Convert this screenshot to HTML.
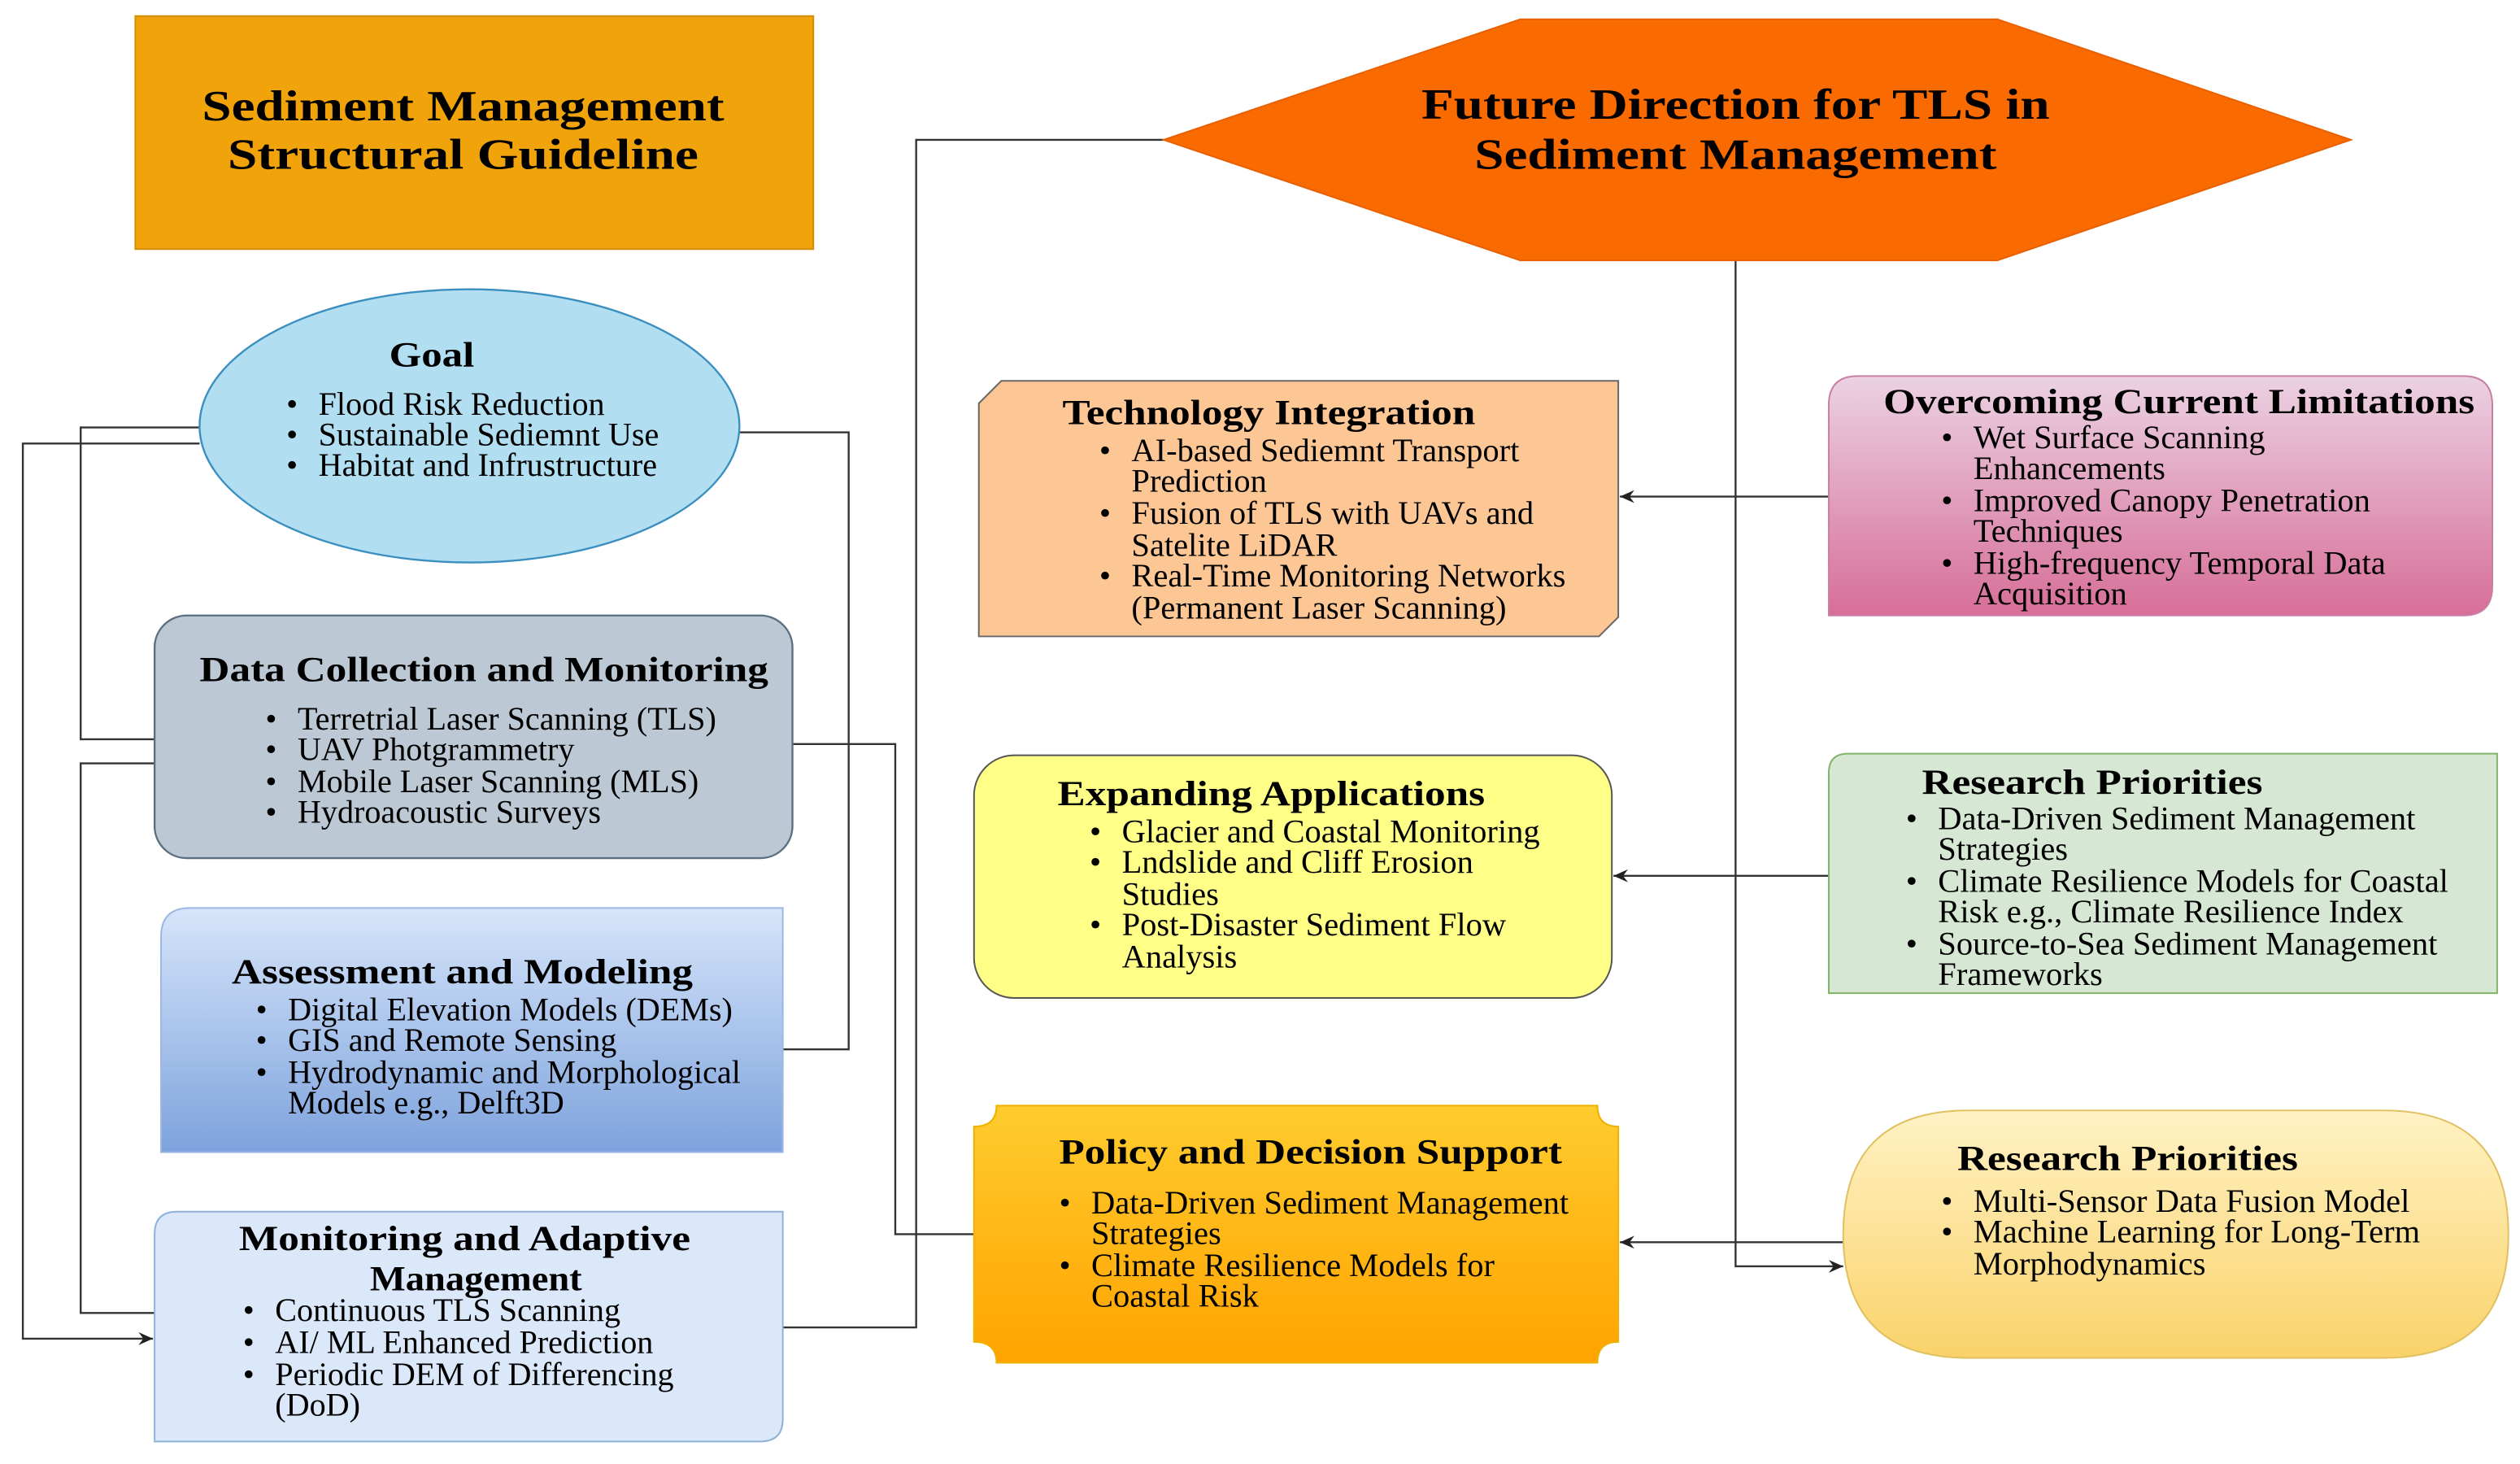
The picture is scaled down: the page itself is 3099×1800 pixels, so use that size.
<!DOCTYPE html>
<html><head><meta charset="utf-8"><style>html,body{margin:0;padding:0;background:#fff}svg{display:block}svg text{font-family:"Liberation Serif","Times New Roman",serif}</style></head>
<body>
<svg width="3099" height="1800" viewBox="0 0 1568 911" xmlns="http://www.w3.org/2000/svg" style="font-family:'Liberation Serif',serif">
<defs>
<linearGradient id="gA" x1="0" y1="0" x2="0" y2="1"><stop offset="0" stop-color="#D6E5FA"/><stop offset="1" stop-color="#7EA3DD"/></linearGradient>
<linearGradient id="gO" x1="0" y1="0" x2="0" y2="1"><stop offset="0" stop-color="#EBD2E2"/><stop offset="1" stop-color="#D76E98"/></linearGradient>
<linearGradient id="gP" x1="0" y1="0" x2="0" y2="1"><stop offset="0" stop-color="#FFCC2E"/><stop offset="1" stop-color="#FFA300"/></linearGradient>
<linearGradient id="gR" x1="0" y1="0" x2="0" y2="1"><stop offset="0" stop-color="#FFF2C4"/><stop offset="1" stop-color="#FAD26A"/></linearGradient>
<marker id="ar" markerWidth="10" markerHeight="10" refX="9" refY="5" orient="auto" markerUnits="userSpaceOnUse"><path d="M0,1 L9,5 L0,9 L3,5 Z" fill="#222"/></marker>
</defs>

<g fill="none" stroke="#333" stroke-width="1.2">
<path d="M724 87 H570 V826 H487"/>
<path d="M1080 162 V788 H1147" marker-end="url(#ar)"/>
<path d="M1138 309 H1008" marker-end="url(#ar)"/>
<path d="M1138 545 H1004" marker-end="url(#ar)"/>
<path d="M1147 773 H1008" marker-end="url(#ar)"/>
<path d="M460 269 H528 V653 H487"/>
<path d="M493 463 H557 V768 H606"/>
<path d="M124 266 H50 V460 H96"/>
<path d="M124 276 H14 V833 H95" marker-end="url(#ar)"/>
<path d="M96 475 H50 V817 H96"/>
</g>

<rect x="84" y="10" width="422" height="145" fill="#F0A30A" stroke="#D48C00"/>
<g font-weight="bold" font-size="27" text-anchor="middle">
<text x="288" y="75" textLength="325" lengthAdjust="spacingAndGlyphs">Sediment Management</text>
<text x="288" y="105" textLength="293" lengthAdjust="spacingAndGlyphs">Structural Guideline</text>
</g>

<polygon points="724,87 946,12 1243,12 1463,87 1243,162 946,162" fill="#F96A00" stroke="#E86000"/>
<g font-weight="bold" font-size="27" text-anchor="middle">
<text x="1080" y="74" textLength="391" lengthAdjust="spacingAndGlyphs">Future Direction for TLS in</text>
<text x="1080" y="105" textLength="325" lengthAdjust="spacingAndGlyphs">Sediment Management</text>
</g>

<ellipse cx="292" cy="265" rx="168" ry="85" fill="#B1DEF0" stroke="#3B8FC0" stroke-width="1.2"/>
<text x="242" y="228" font-weight="bold" font-size="22" textLength="53" lengthAdjust="spacingAndGlyphs">Goal</text>
<g font-size="20.3">
<text x="178" y="258">•</text><text x="198" y="258">Flood Risk Reduction</text>
<text x="178" y="277">•</text><text x="198" y="277">Sustainable Sediemnt Use</text>
<text x="178" y="296">•</text><text x="198" y="296">Habitat and Infrustructure</text>
</g>

<rect x="96" y="383" width="397" height="151" rx="20" fill="#BCC9D4" stroke="#5A6F80" stroke-width="1.2"/>
<text x="124" y="424" font-weight="bold" font-size="22" textLength="354" lengthAdjust="spacingAndGlyphs">Data Collection and Monitoring</text>
<g font-size="20.3">
<text x="165" y="454">•</text><text x="185" y="454">Terretrial Laser Scanning (TLS)</text>
<text x="165" y="473">•</text><text x="185" y="473">UAV Photgrammetry</text>
<text x="165" y="493">•</text><text x="185" y="493">Mobile Laser Scanning (MLS)</text>
<text x="165" y="512">•</text><text x="185" y="512">Hydroacoustic Surveys</text>
</g>

<path d="M118 565 H487 V717 H100 V583 Q100 565 118 565 Z" fill="url(#gA)" stroke="#9DB8E0"/>
<text x="144" y="612" font-weight="bold" font-size="22" textLength="287" lengthAdjust="spacingAndGlyphs">Assessment and Modeling</text>
<g font-size="20.3">
<text x="159" y="635">•</text><text x="179" y="635">Digital Elevation Models (DEMs)</text>
<text x="159" y="654">•</text><text x="179" y="654">GIS and Remote Sensing</text>
<text x="159" y="674">•</text><text x="179" y="674">Hydrodynamic and Morphological</text>
<text x="179" y="693">Models e.g., Delft3D</text>
</g>

<path d="M110 754 H487 V883 Q487 897 473 897 H96 V768 Q96 754 110 754 Z" fill="#DAE8FA" stroke="#8FB0D8"/>
<g font-weight="bold" font-size="22" text-anchor="middle">
<text x="289" y="778" textLength="281" lengthAdjust="spacingAndGlyphs">Monitoring and Adaptive</text>
<text x="296" y="803" textLength="132" lengthAdjust="spacingAndGlyphs">Management</text>
</g>
<g font-size="20.3">
<text x="151" y="822">•</text><text x="171" y="822">Continuous TLS Scanning</text>
<text x="151" y="842">•</text><text x="171" y="842">AI/ ML Enhanced Prediction</text>
<text x="151" y="862">•</text><text x="171" y="862">Periodic DEM of Differencing</text>
<text x="171" y="881">(DoD)</text>
</g>

<polygon points="623,237 1007,237 1007,384 995,396 609,396 609,251" fill="#FDC795" stroke="#666"/>
<text x="661" y="264" font-weight="bold" font-size="22" textLength="257" lengthAdjust="spacingAndGlyphs">Technology Integration</text>
<g font-size="20.5">
<text x="684" y="287">•</text><text x="704" y="287">AI-based Sediemnt Transport</text>
<text x="704" y="306">Prediction</text>
<text x="684" y="326">•</text><text x="704" y="326">Fusion of TLS with UAVs and</text>
<text x="704" y="346">Satelite LiDAR</text>
<text x="684" y="365">•</text><text x="704" y="365">Real-Time Monitoring Networks</text>
<text x="704" y="385">(Permanent Laser Scanning)</text>
</g>

<path d="M1156 234 H1533 Q1551 234 1551 252 V365 Q1551 383 1533 383 H1138 V252 Q1138 234 1156 234 Z" fill="url(#gO)" stroke="#C97FA5"/>
<text x="1172" y="257" font-weight="bold" font-size="22" textLength="368" lengthAdjust="spacingAndGlyphs">Overcoming Current Limitations</text>
<g font-size="20.5">
<text x="1208" y="279">•</text><text x="1228" y="279">Wet Surface Scanning</text>
<text x="1228" y="298">Enhancements</text>
<text x="1208" y="318">•</text><text x="1228" y="318">Improved Canopy Penetration</text>
<text x="1228" y="337">Techniques</text>
<text x="1208" y="357">•</text><text x="1228" y="357">High-frequency Temporal Data</text>
<text x="1228" y="376">Acquisition</text>
</g>

<rect x="606" y="470" width="397" height="151" rx="25" fill="#FFFF88" stroke="#555"/>
<text x="658" y="501" font-weight="bold" font-size="22" textLength="266" lengthAdjust="spacingAndGlyphs">Expanding Applications</text>
<g font-size="20.5">
<text x="678" y="524">•</text><text x="698" y="524">Glacier and Coastal Monitoring</text>
<text x="678" y="543">•</text><text x="698" y="543">Lndslide and Cliff Erosion</text>
<text x="698" y="563">Studies</text>
<text x="678" y="582">•</text><text x="698" y="582">Post-Disaster Sediment Flow</text>
<text x="698" y="602">Analysis</text>
</g>

<path d="M1150 469 H1554 V618 H1138 V481 Q1138 469 1150 469 Z" fill="#D6E8D4" stroke="#82B366"/>
<text x="1196" y="494" font-weight="bold" font-size="22" textLength="212" lengthAdjust="spacingAndGlyphs">Research Priorities</text>
<g font-size="20.5">
<text x="1186" y="516">•</text><text x="1206" y="516">Data-Driven Sediment Management</text>
<text x="1206" y="535">Strategies</text>
<text x="1186" y="555">•</text><text x="1206" y="555">Climate Resilience Models for Coastal</text>
<text x="1206" y="574">Risk e.g., Climate Resilience Index</text>
<text x="1186" y="594">•</text><text x="1206" y="594">Source-to-Sea Sediment Management</text>
<text x="1206" y="613">Frameworks</text>
</g>

<path d="M620 688 H994 Q994 701 1007 701 V835 Q994 835 994 848 H620 Q620 835 606 835 V701 Q620 701 620 688 Z" fill="url(#gP)" stroke="#F0B000"/>
<text x="659" y="724" font-weight="bold" font-size="22" textLength="313" lengthAdjust="spacingAndGlyphs">Policy and Decision Support</text>
<g font-size="20.5">
<text x="659" y="755">•</text><text x="679" y="755">Data-Driven Sediment Management</text>
<text x="679" y="774">Strategies</text>
<text x="659" y="794">•</text><text x="679" y="794">Climate Resilience Models for</text>
<text x="679" y="813">Coastal Risk</text>
</g>

<path d="M1225 691 H1483 Q1561 691 1561 768 Q1561 845 1483 845 H1225 Q1147 845 1147 768 Q1147 691 1225 691 Z" fill="url(#gR)" stroke="#E0C060"/>
<text x="1218" y="728" font-weight="bold" font-size="22" textLength="212" lengthAdjust="spacingAndGlyphs">Research Priorities</text>
<g font-size="20.5">
<text x="1208" y="754">•</text><text x="1228" y="754">Multi-Sensor Data Fusion Model</text>
<text x="1208" y="773">•</text><text x="1228" y="773">Machine Learning for Long-Term</text>
<text x="1228" y="793">Morphodynamics</text>
</g>
</svg>
</body></html>
